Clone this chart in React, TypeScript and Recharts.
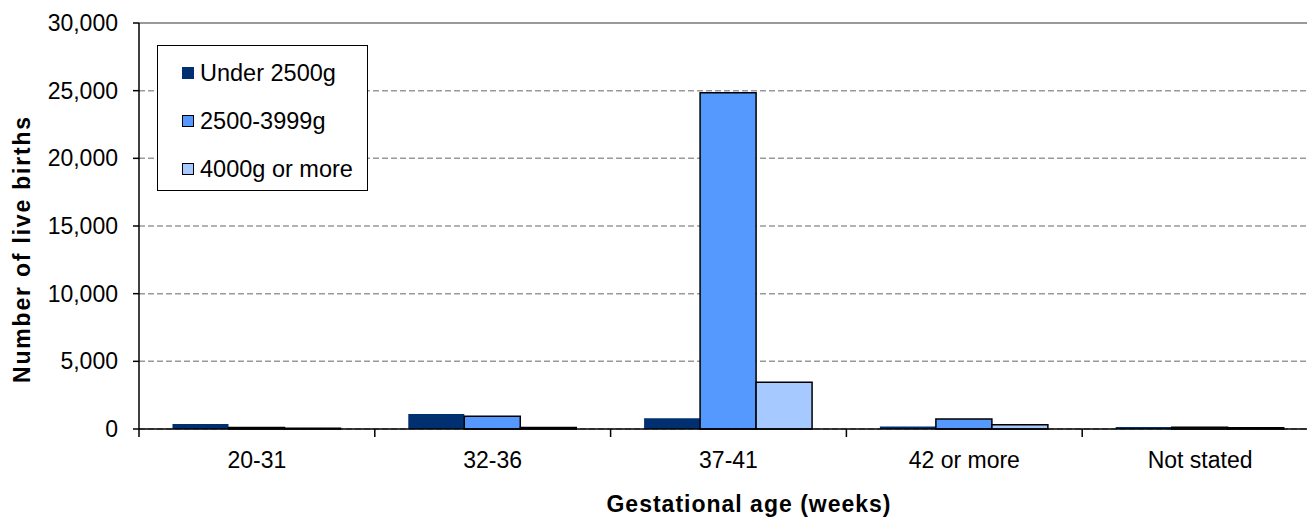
import React from 'react'
import { BarChart, Bar, XAxis, YAxis, CartesianGrid, Legend, ReferenceLine } from 'recharts'

const CATEGORIES = ['20-31', '32-36', '37-41', '42 or more', 'Not stated']
const UNDER_2500 = [370, 1100, 800, 190, 150]
const MID_2500_3999 = [110, 950, 24850, 740, 130]
const OVER_4000 = [60, 120, 3450, 320, 100]
const Y_TICKS = [0, 5000, 10000, 15000, 20000, 25000, 30000]

const SERIES = [
  { key: 'under', name: 'Under 2500g', color: '#00306F', border: false },
  { key: 'mid', name: '2500-3999g', color: '#5599FF', border: true },
  { key: 'over', name: '4000g or more', color: '#A6CAFF', border: true },
]

const data = CATEGORIES.map((name, i) => ({
  name,
  under: UNDER_2500[i],
  mid: MID_2500_3999[i],
  over: OVER_4000[i],
}))

const FONT = '"Liberation Sans", Arial, sans-serif'

const CategoryTick = (props: any) => {
  const { x, y, payload, index } = props
  const half = payload.offset ?? 0
  return (
    <g>
      <line x1={x - half} y1={y} x2={x - half} y2={y + 8} stroke="#000" strokeWidth={1.5} />
      {index === CATEGORIES.length - 1 && (
        <line x1={x + half} y1={y} x2={x + half} y2={y + 8} stroke="#000" strokeWidth={1.5} />
      )}
      <text x={x} y={y + 39} textAnchor="middle" fontSize={23} fontFamily={FONT} fill="#000">
        {payload.value}
      </text>
    </g>
  )
}

const LegendBox = () => (
  <div
    style={{
      border: '1.5px solid #000',
      background: '#fff',
      width: 211,
      height: 146,
      boxSizing: 'border-box',
      padding: '3px 0 0 24px',
      fontFamily: FONT,
      fontSize: 23.5,
      color: '#000',
    }}
  >
    {SERIES.map((s) => (
      <div key={s.key} style={{ display: 'flex', alignItems: 'center', height: 48 }}>
        <span
          style={{
            display: 'inline-block',
            width: 12,
            height: 12,
            background: s.color,
            border: s.border ? '1.5px solid #000' : 'none',
            boxSizing: 'border-box',
            marginRight: 6,
          }}
        />
        <span>{s.name}</span>
      </div>
    ))}
  </div>
)

export default function App() {
  return (
    <div style={{ position: 'absolute', left: 0, top: 0, width: 1307, height: 517, overflow: 'hidden', background: '#fff' }}>
      <BarChart
        width={1330}
        height={517}
        data={data}
        margin={{ top: 23, right: 12, left: 0, bottom: 0 }}
        barCategoryGap="14.2%"
        barGap={0}
      >
        <CartesianGrid vertical={false} stroke="#999" strokeDasharray="6 3" strokeWidth={1.5} />
        <ReferenceLine y={30000} stroke="#999" strokeWidth={2} />
        <XAxis
          dataKey="name"
          height={88}
          axisLine={{ stroke: '#000', strokeWidth: 1.5 }}
          tickLine={false}
          tickSize={0}
          tickMargin={0}
          tick={<CategoryTick />}
          interval={0}
          label={{
            content: () => (
              <text
                x={749}
                y={512}
                textAnchor="middle"
                fontSize={23}
                fontWeight="bold"
                letterSpacing={1}
                fontFamily={FONT}
                fill="#000"
              >
                Gestational age (weeks)
              </text>
            ),
          }}
        />
        <YAxis
          width={139}
          domain={[0, 30000]}
          ticks={Y_TICKS}
          interval={0}
          axisLine={{ stroke: '#000', strokeWidth: 1.5 }}
          tickLine={{ stroke: '#000', strokeWidth: 1.5 }}
          tickSize={6}
          tickMargin={15}
          tick={{ fontSize: 23, fontFamily: FONT, fill: '#000' }}
          tickFormatter={(v: number) => v.toLocaleString('en-US')}
          label={{
            content: () => (
              <text
                x={22}
                y={249}
                transform="rotate(-90 22 249)"
                textAnchor="middle"
                dominantBaseline="central"
                fontSize={23}
                fontWeight="bold"
                letterSpacing={1.8}
                fontFamily={FONT}
                fill="#000"
              >
                Number of live births
              </text>
            ),
          }}
        />
        <Legend
          layout="vertical"
          align="center"
          verticalAlign="middle"
          wrapperStyle={{ left: 157, top: 45, width: 213 }}
          content={() => <LegendBox />}
        />
        {SERIES.map((s) => (
          <Bar
            key={s.key}
            dataKey={s.key}
            name={s.name}
            fill={s.color}
            stroke={s.border ? '#000' : 'none'}
            strokeWidth={1.5}
            isAnimationActive={false}
          />
        ))}
      </BarChart>
    </div>
  )
}
